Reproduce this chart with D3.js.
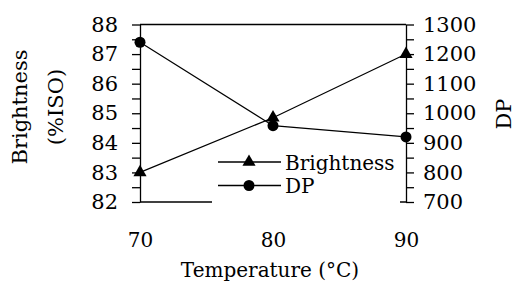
<!DOCTYPE html>
<html>
<head>
<meta charset="utf-8">
<script src="https://cdn.jsdelivr.net/npm/d3@7"></script>
<style>
  body { margin: 0; background: #fff; }
  text { font-family: "DejaVu Serif", serif; fill: #000; }
</style>
</head>
<body>
<svg width="516" height="288"></svg>
<script>
const temps = [70, 80, 90];
const brightness = [83, 84.85, 87];
const dp = [1240, 958, 920];
const xTicks = [70, 80, 90];
const leftTicks = d3.range(82, 88.01, 0.5);
const rightTicks = d3.range(700, 1300.1, 50);

const svg = d3.select('svg');

const plotL = 140, plotR = 406, plotT = 24.5, plotB = 202;

const x = d3.scaleLinear().domain([70, 90]).range([plotL, plotR]);
const yL = d3.scaleLinear().domain([82, 88]).range([plotB, plotT]);
const yR = d3.scaleLinear().domain([700, 1300]).range([plotB, plotT]);

// frame lines top / bottom
svg.append('line')
   .attr('x1', plotL).attr('x2', plotR).attr('y1', plotT).attr('y2', plotT)
   .attr('stroke', '#000').attr('stroke-width', 1.3);
svg.append('line')
   .attr('x1', plotL).attr('x2', plotR).attr('y1', plotB).attr('y2', plotB)
   .attr('stroke', '#000').attr('stroke-width', 1.3);

const axL = svg.append('g').attr('transform', `translate(${plotL},0)`)
   .call(d3.axisLeft(yL).tickValues(leftTicks)
     .tickFormat(d => Number.isInteger(d) ? d : '')
     .tickSize(8).tickSizeOuter(0).tickPadding(14));

const axR = svg.append('g').attr('transform', `translate(${plotR},0)`)
   .call(d3.axisRight(yR).tickValues(rightTicks)
     .tickFormat(d => d % 100 === 0 ? d : '')
     .tickSize(8).tickSizeOuter(0).tickPadding(9));

[axL, axR].forEach(a => {
  a.selectAll('path, line').attr('stroke', '#000').attr('stroke-width', 1.3);
  a.selectAll('text').style('font-family', '"DejaVu Serif", serif')
   .style('font-size', '21px').attr('fill', '#000');
});

const axX = svg.append('g').attr('transform', `translate(0,${plotB})`)
   .call(d3.axisBottom(x).tickValues(xTicks).tickSize(0).tickPadding(31));
axX.select('.domain').remove();
axX.selectAll('text').style('font-family', '"DejaVu Serif", serif')
   .style('font-size', '20px').attr('fill', '#000');

// series lines
const lineB = d3.line().x((d, i) => x(temps[i])).y(d => yL(d));
const lineD = d3.line().x((d, i) => x(temps[i])).y(d => yR(d));

svg.append('path').datum(brightness).attr('d', lineB)
   .attr('fill', 'none').attr('stroke', '#000').attr('stroke-width', 1.2);
svg.append('path').datum(dp).attr('d', lineD)
   .attr('fill', 'none').attr('stroke', '#000').attr('stroke-width', 1.2);

const tri = d3.symbol(d3.symbolTriangle, 75);
const circ = d3.symbol(d3.symbolCircle, 95);

svg.selectAll('.mb').data(brightness).enter().append('path')
   .attr('d', tri)
   .attr('transform', (d, i) => `translate(${x(temps[i])},${yL(d)})`)
   .attr('fill', '#000');
svg.selectAll('.md').data(dp).enter().append('path')
   .attr('d', circ)
   .attr('transform', (d, i) => `translate(${x(temps[i])},${yR(d)})`)
   .attr('fill', '#000');

// legend
const lg = svg.append('g');
lg.append('rect').attr('x', 212).attr('y', 150).attr('width', 188).attr('height', 62)
  .attr('fill', '#fff');
const items = [
  {name: 'Brightness', sym: tri, y: 162},
  {name: 'DP', sym: circ, y: 185.5}
];
items.forEach(it => {
  lg.append('line').attr('x1', 218).attr('x2', 281).attr('y1', it.y).attr('y2', it.y)
    .attr('stroke', '#000').attr('stroke-width', 1.3);
  lg.append('path').attr('d', it.sym).attr('transform', `translate(249,${it.y})`)
    .attr('fill', '#000');
  lg.append('text').attr('x', 285).attr('y', it.y + 7.5)
    .style('font-size', '20px').text(it.name);
});

// axis titles
svg.append('text').attr('transform', 'translate(27,107) rotate(-90)')
   .attr('text-anchor', 'middle').style('font-size', '21px').text('Brightness');
svg.append('text').attr('transform', 'translate(63,107) rotate(-90)')
   .attr('text-anchor', 'middle').style('font-size', '21px').text('(%ISO)');
svg.append('text').attr('transform', 'translate(511,114) rotate(-90)')
   .attr('text-anchor', 'middle').style('font-size', '21px').text('DP');
svg.append('text').attr('x', 270).attr('y', 277)
   .attr('text-anchor', 'middle').style('font-size', '20px').text('Temperature (°C)');
</script>
</body>
</html>
